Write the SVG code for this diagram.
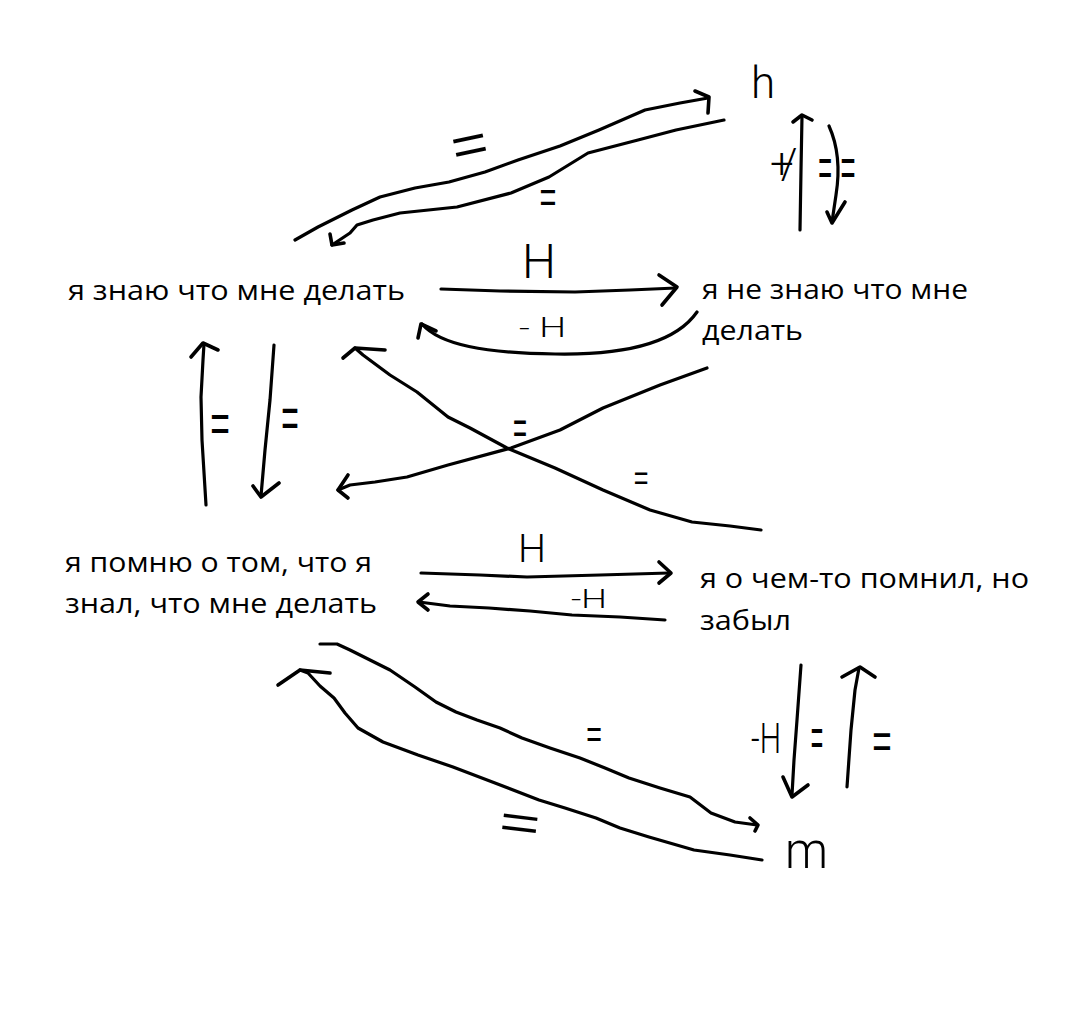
<svg xmlns="http://www.w3.org/2000/svg" width="1075" height="1011" viewBox="0 0 1075 1011">
<style>
.node{font-family:"Open Sans","Noto Sans","Liberation Sans",sans-serif;font-size:27px;fill:#000}
.ln{fill:none;stroke:#000;stroke-width:3.2;stroke-linecap:round;stroke-linejoin:round}
.hd{fill:none;stroke:#000;stroke-width:3.6;stroke-linecap:round;stroke-linejoin:round}
.lb{font-family:Roboto,"Liberation Sans","DejaVu Sans",sans-serif;font-weight:300;fill:#000}
.eq{font-family:"Liberation Sans","DejaVu Sans",sans-serif;font-weight:400;fill:#000}
</style>
<rect width="1075" height="1011" fill="#fff"/>
<g id="node-know">
<text class="node" x="68" y="300" textLength="337" lengthAdjust="spacingAndGlyphs">я знаю что мне делать</text>
</g>
<g id="node-dontknow">
<text class="node" x="702" y="299" textLength="266" lengthAdjust="spacingAndGlyphs">я не знаю что мне</text>
<text class="node" x="702" y="340" textLength="101" lengthAdjust="spacingAndGlyphs">делать</text>
</g>
<g id="node-remember">
<text class="node" x="65" y="572" textLength="307" lengthAdjust="spacingAndGlyphs">я помню о том, что я</text>
<text class="node" x="65" y="613" textLength="312" lengthAdjust="spacingAndGlyphs">знал, что мне делать</text>
</g>
<g id="node-forgot">
<text class="node" x="700" y="588" textLength="329" lengthAdjust="spacingAndGlyphs">я о чем-то помнил, но</text>
<text class="node" x="700" y="630" textLength="91" lengthAdjust="spacingAndGlyphs">забыл</text>
</g>
<g id="node-h">
<text class="lb" x="751" y="98" font-size="44" font-weight="400">h</text>
</g>
<g id="node-m">
<text class="lb" x="785" y="868" font-size="52" font-weight="400" textLength="43" lengthAdjust="spacingAndGlyphs">m</text>
</g>
<g id="connectors">
<!-- top long pair -->
<path class="ln" d="M295,240 L318,227 L352,210 L380,197 L415,188 L449,182 L485,172 L518,160 L560,146 L599,130 L645,110 L680,103 L708,98"/>
<path class="hd" d="M695,91 L709,97 L708,113"/>
<path class="ln" d="M724,120 L676,130 L638,140 L588,153 L549,177 L511,193 L457,207 L400,213 L373,220 L357,225 L350,233 L332,245"/>
<path class="hd" d="M330,234 L332,245 L344,243"/>
<!-- top right vertical pair -->
<path class="ln" d="M800,230 L801,170 L802,116"/>
<path class="hd" d="M793,122 L802,115 L812,120"/>
<path class="ln" d="M829,126 C838,146 840,170 836,195 L832,222"/>
<path class="hd" d="M827,212 L832,223 L845,202"/>
<!-- H top -->
<path class="ln" d="M441,289 L500,291 L575,292 L630,290 L676,288"/>
<path class="hd" d="M659,275 L677,287 L662,305"/>
<!-- -H top curve -->
<path class="ln" d="M697,312 C672,348 610,355 555,354 C485,353 440,345 422,324"/>
<path class="hd" d="M418,338 L421,324 L436,331"/>
<!-- left vertical pair -->
<path class="ln" d="M206,505 L202,440 L201,397 L203,360 L204,344"/>
<path class="hd" d="M191,357 L203,343 L218,350"/>
<path class="ln" d="M274,345 L270,400 L265,450 L261,496"/>
<path class="hd" d="M253,486 L261,497 L279,483"/>
<!-- crossing pair -->
<path class="ln" d="M761,530 L730,526 L692,522 L650,510 L603,490 L555,468 L507,448 L470,428 L448,417 L417,392 L390,375 L363,355 L355,348"/>
<path class="hd" d="M343,358 L355,348 L385,350"/>
<path class="ln" d="M707,368 L660,385 L603,408 L560,430 L511,448 L448,465 L407,477 L375,482 L350,485 L338,490"/>
<path class="hd" d="M348,475 L338,490 L348,498"/>
<!-- H bottom -->
<path class="ln" d="M421,573 L480,575 L527,577 L600,575 L669,573"/>
<path class="hd" d="M659,562 L671,573 L659,583"/>
<!-- -H bottom -->
<path class="ln" d="M665,620 L620,617 L572,615 L530,611 L489,608 L450,606 L419,602"/>
<path class="hd" d="M428,594 L418,602 L428,610"/>
<!-- bottom long pair -->
<path class="ln" d="M320,644 L337,644 L350,650 L370,660 L390,670 L415,687 L436,702 L456,712 L477,720 L500,728 L522,738 L550,748 L580,758 L605,768 L629,778 L660,788 L690,797 L711,813 L735,822 L757,825"/>
<path class="hd" d="M750,818 L758,825 L755,831"/>
<path class="ln" d="M762,860 L730,855 L694,850 L649,837 L620,828 L596,818 L565,808 L539,800 L495,783 L453,767 L418,755 L383,742 L358,728 L345,713 L334,698 L320,686 L308,673 L300,670"/>
<path class="hd" d="M278,685 L300,670 L330,673"/>
<!-- bottom right vertical pair -->
<path class="ln" d="M801,665 L797,720 L794,760 L792,795"/>
<path class="hd" d="M783,777 L792,797 L808,785"/>
<path class="ln" d="M847,787 L851,730 L855,690 L859,668"/>
<path class="hd" d="M842,677 L860,667 L875,677"/>
<!-- labels -->
<text class="eq" font-size="54" text-anchor="middle" transform="translate(469,143) rotate(-12) scale(1.15,1)" y="20">=</text>
<text class="eq" font-size="46" text-anchor="middle" transform="translate(548,196) scale(0.63,1)" y="17">=</text>
<text class="lb" font-size="42" x="770" y="178" letter-spacing="-13">+/</text>
<text class="eq" font-size="56" text-anchor="middle" transform="translate(825,165) scale(0.42,1)" y="21">=</text>
<text class="eq" font-size="56" text-anchor="middle" transform="translate(848,165) scale(0.46,1)" y="21">=</text>
<text class="lb" font-size="48" x="522" y="278" textLength="34" lengthAdjust="spacingAndGlyphs">H</text>
<text class="lb" font-size="28" x="519" y="337" textLength="47" lengthAdjust="spacingAndGlyphs">- H</text>
<text class="eq" font-size="56" text-anchor="middle" transform="translate(220,421) scale(0.6,1)" y="21">=</text>
<text class="eq" font-size="60" text-anchor="middle" transform="translate(290,416) scale(0.5,1)" y="22">=</text>
<text class="eq" font-size="48" text-anchor="middle" transform="translate(520,426) scale(0.5,1)" y="18">=</text>
<text class="eq" font-size="36" text-anchor="middle" transform="translate(641,477) scale(0.7,1)" y="13">=</text>
<text class="lb" font-size="38" x="518" y="562" textLength="28" lengthAdjust="spacingAndGlyphs">H</text>
<text class="lb" font-size="26" x="571" y="608" textLength="36" lengthAdjust="spacingAndGlyphs">-H</text>
<text class="eq" font-size="40" text-anchor="middle" transform="translate(594,733) scale(0.67,1)" y="15">=</text>
<text class="eq" font-size="48" text-anchor="middle" transform="translate(520,821) rotate(7) scale(1.45,1)" y="18">=</text>
<text class="lb" font-size="43" x="751" y="753" textLength="30" lengthAdjust="spacingAndGlyphs">-H</text>
<text class="eq" font-size="56" text-anchor="middle" transform="translate(817,735) scale(0.38,1)" y="21">=</text>
<text class="eq" font-size="52" text-anchor="middle" transform="translate(882,740) scale(0.64,1)" y="19">=</text>
</g>
</svg>
